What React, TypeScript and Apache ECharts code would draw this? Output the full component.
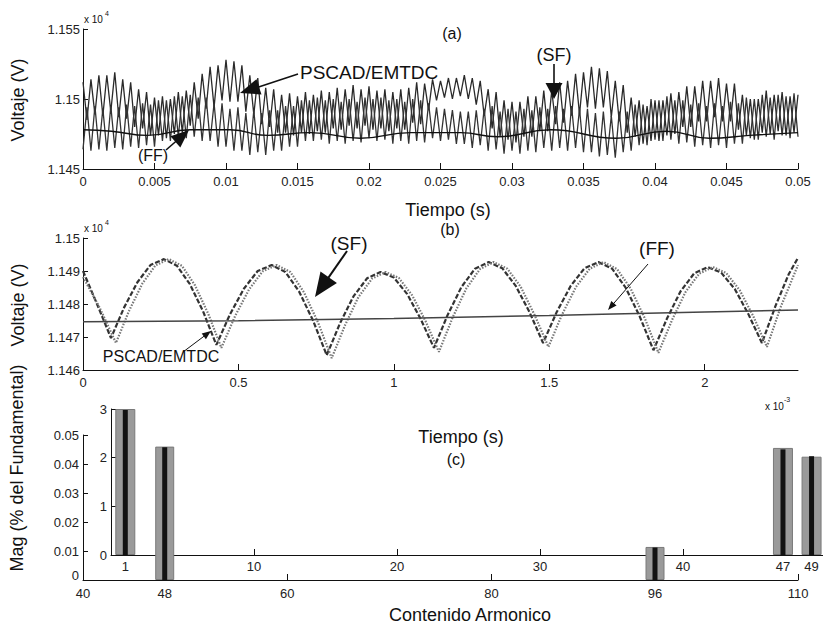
import React, { useEffect, useRef } from "react";
import * as echarts from "echarts";

const FONT = "'Liberation Sans', Arial, sans-serif";
const TICK_FONT = "'Liberation Sans Narrow', 'Liberation Sans', Arial, sans-serif";

// ---------- Panel (a): voltage (V), time (s) ----------
const A_HALF_STEP = 0.05 / 180; // spacing between successive peak / trough samples
const PSCAD_A_PEAKS = [
  11512, 11514, 11517, 11517, 11519, 11514, 11512, 11507, 11505, 11501,
  11502, 11500, 11505, 11506, 11512, 11518, 11523, 11524, 11528, 11527,
  11524, 11517, 11515, 11508, 11507, 11503, 11504, 11502, 11505, 11503,
  11506, 11505, 11508, 11507, 11510, 11507, 11509, 11506, 11507, 11505,
  11507, 11508, 11512, 11511, 11514, 11513, 11515, 11515, 11517, 11515,
  11513, 11507, 11505, 11499, 11498, 11498, 11502, 11502, 11506, 11506,
  11512, 11513, 11518, 11519, 11523, 11522, 11520, 11513, 11510, 11501,
  11499, 11495, 11499, 11499, 11504, 11505, 11509, 11509, 11513, 11513,
  11515, 11511, 11511, 11503, 11500, 11500, 11506, 11503, 11505, 11502,
  11503,
];
const PSCAD_A_TROUGHS = [
  11485, 11489, 11488, 11491, 11487, 11486, 11480, 11479, 11474, 11474,
  11472, 11475, 11476, 11481, 11486, 11493, 11494, 11499, 11498, 11498,
  11491, 11489, 11482, 11480, 11476, 11476, 11474, 11476, 11475, 11477,
  11476, 11479, 11478, 11481, 11479, 11481, 11478, 11479, 11477, 11479,
  11478, 11483, 11482, 11492, 11499, 11501, 11500, 11502, 11500, 11496,
  11488, 11479, 11473, 11471, 11469, 11473, 11473, 11477, 11477, 11482,
  11483, 11488, 11489, 11494, 11493, 11494, 11487, 11484, 11476, 11473,
  11468, 11470, 11470, 11474, 11475, 11480, 11480, 11484, 11484, 11487,
  11484, 11484, 11478, 11474, 11471, 11476, 11475, 11477, 11474, 11476,
];
const SF_A_TROUGHS = [
  11464, 11463, 11464, 11463, 11465, 11464, 11466, 11465, 11467, 11466,
  11470, 11470, 11473, 11472, 11473, 11470, 11470, 11466, 11466, 11463,
  11463, 11460, 11462, 11460, 11463, 11463, 11466, 11466, 11470, 11470,
  11471, 11468, 11470, 11468, 11470, 11469, 11472, 11470, 11471, 11468,
  11470, 11468, 11470, 11469, 11472, 11470, 11471, 11468, 11468, 11465,
  11467, 11463, 11464, 11461, 11463, 11461, 11463, 11462, 11465, 11463,
  11465, 11463, 11465, 11462, 11462, 11459, 11460, 11458, 11462, 11463,
  11467, 11467, 11471, 11470, 11471, 11468, 11469, 11466, 11467, 11465,
  11467, 11465, 11468, 11468, 11472, 11471, 11473, 11471, 11474, 11472,
  11473,
];
const SF_A_PEAKS = [
  11494, 11495, 11493, 11495, 11494, 11496, 11495, 11497, 11496, 11499,
  11499, 11502, 11502, 11503, 11501, 11501, 11497, 11497, 11493, 11494,
  11490, 11492, 11490, 11492, 11492, 11495, 11495, 11499, 11499, 11501,
  11499, 11500, 11498, 11500, 11498, 11501, 11500, 11501, 11499, 11500,
  11498, 11500, 11499, 11497, 11494, 11493, 11492, 11491, 11491, 11492,
  11493, 11495, 11491, 11493, 11491, 11493, 11492, 11494, 11493, 11495,
  11493, 11495, 11493, 11493, 11490, 11491, 11488, 11491, 11491, 11496,
  11496, 11500, 11499, 11502, 11499, 11499, 11496, 11497, 11495, 11497,
  11495, 11498, 11497, 11501, 11500, 11503, 11501, 11503, 11502, 11504,
];
const FF_A = [
  [0, 11478], [0.002, 11477], [0.0045, 11474], [0.0075, 11478], [0.0103, 11478],
  [0.0129, 11474], [0.0159, 11476], [0.0194, 11472], [0.0229, 11476], [0.0264, 11476],
  [0.029, 11473], [0.0327, 11478], [0.0373, 11472], [0.0408, 11477], [0.0438, 11472],
  [0.0466, 11474], [0.05, 11476],
];

// ---------- Panel (b): voltage (V), time (x10^-3 s) ----------
const SF_B = [
  [0, 11490], [0.045, 11480], [0.09, 11469.7],
  [0.132, 11478.9], [0.175, 11486.6], [0.217, 11491.8], [0.26, 11493.6], [0.302, 11491.6], [0.344, 11486], [0.387, 11477.6], [0.429, 11467.6],
  [0.473, 11476.9], [0.518, 11484.7], [0.562, 11490], [0.607, 11491.8], [0.651, 11489.7], [0.695, 11483.8], [0.74, 11475], [0.784, 11464.5],
  [0.827, 11474.2], [0.87, 11482.3], [0.914, 11487.8], [0.957, 11489.7], [1.0, 11488], [1.043, 11483], [1.086, 11475.5], [1.129, 11466.7],
  [1.173, 11476.7], [1.217, 11485.1], [1.261, 11490.7], [1.305, 11492.7], [1.349, 11490.8], [1.392, 11485.5], [1.436, 11477.6], [1.48, 11468.2],
  [1.524, 11477.6], [1.569, 11485.5], [1.613, 11490.8], [1.658, 11492.7], [1.702, 11490.7], [1.746, 11484.9], [1.791, 11476.2], [1.835, 11466],
  [1.879, 11475.7], [1.922, 11483.8], [1.966, 11489.3], [2.01, 11491.2], [2.053, 11489.5], [2.097, 11484.5], [2.14, 11477], [2.184, 11468.2],
  [2.228, 11479.5], [2.27, 11489], [2.3, 11494],
];
const PSCAD_B = [
  [0, 11488.2], [0.053, 11479], [0.106, 11468.2],
  [0.148, 11477.9], [0.191, 11486.2], [0.233, 11491.7], [0.276, 11493.6], [0.318, 11491.6], [0.36, 11485.7], [0.403, 11477], [0.445, 11466.7],
  [0.489, 11476.3], [0.534, 11484.4], [0.578, 11489.9], [0.623, 11491.8], [0.667, 11489.7], [0.711, 11483.5], [0.756, 11474.4], [0.8, 11463.6],
  [0.843, 11473.6], [0.886, 11482.1], [0.93, 11487.7], [0.973, 11489.7], [1.016, 11487.9], [1.059, 11482.6], [1.102, 11474.8], [1.145, 11465.5],
  [1.189, 11475.9], [1.233, 11484.7], [1.277, 11490.6], [1.321, 11492.7], [1.365, 11490.7], [1.408, 11485.2], [1.452, 11476.8], [1.497, 11467],
  [1.541, 11476.8], [1.586, 11485.2], [1.63, 11490.7], [1.674, 11492.7], [1.718, 11490.6], [1.762, 11484.6], [1.807, 11475.7], [1.851, 11465.2],
  [1.895, 11475.2], [1.938, 11483.6], [1.982, 11489.2], [2.026, 11491.2], [2.069, 11489.4], [2.113, 11484.1], [2.156, 11476.3], [2.2, 11467],
  [2.244, 11479], [2.3, 11491.8],
];
const FF_B = [[0, 11474.6], [0.5, 11474.9], [1.0, 11475.6], [1.5, 11476.5], [1.67, 11476.9], [2.0, 11477.6], [2.3, 11478.2]];

// ---------- Panel (c): harmonic content ----------
const OUTER_ORDERS = [48, 96];
const OUTER_GRAY = [0.046, 0.0114];
const OUTER_BLACK = [0.0458, 0.0112];
const INNER_ORDERS = [1, 47, 49];
const INNER_GRAY = [3.0, 2.2, 2.02];
const INNER_BLACK = [2.98, 2.17, 2.03];

const A_X_LABEL_VALUES = [0, 0.005, 0.01, 0.015, 0.02, 0.025, 0.03, 0.035, 0.04, 0.045, 0.05];
const B_X_LABEL_VALUES = [0, 0.5, 1, 1.5, 2];
const C_OUTER_X_LABELS = [40, 48, 60, 80, 96, 110];
const C_OUTER_X_TICKS = [40, 60, 80, 110];
const C_INNER_X_LABELS = [1, 10, 20, 30, 40, 47, 49];
const C_INNER_X_TICKS = [10, 20, 30, 40];

function alternate(first: number[], second: number[], step: number) {
  const out: number[][] = [];
  for (let k = 0; k < first.length; k++) {
    out.push([2 * k * step, first[k]]);
    if (k < second.length) out.push([(2 * k + 1) * step, second[k]]);
  }
  return out;
}
function pairs(xs: number[], ys: number[]) {
  return xs.map((x, i) => [x, ys[i]]);
}

const INK = "#111";

function axisBase(gridIndex: number, extra: any) {
  return {
    type: "value",
    gridIndex,
    axisLine: { show: true, onZero: false, lineStyle: { color: INK, width: 1 } },
    axisTick: { show: true, inside: true, length: 5, lineStyle: { color: INK } },
    axisLabel: { color: "#222", fontSize: 13, fontFamily: TICK_FONT, margin: 5 },
    splitLine: { show: false },
    ...extra,
  };
}

function arrow(x1: number, y1: number, x2: number, y2: number, hl: number, hw: number, lw = 1.6) {
  const dx = x2 - x1, dy = y2 - y1;
  const L = Math.hypot(dx, dy);
  const ux = dx / L, uy = dy / L;
  const bx = x2 - ux * hl, by = y2 - uy * hl;
  const nx = -uy, ny = ux;
  return [
    { type: "line", z: 100, shape: { x1, y1, x2: bx + ux * 2, y2: by + uy * 2 }, style: { stroke: INK, lineWidth: lw } },
    {
      type: "polygon", z: 100,
      shape: { points: [[x2, y2], [bx + (nx * hw) / 2, by + (ny * hw) / 2], [bx - (nx * hw) / 2, by - (ny * hw) / 2]] },
      style: { fill: INK },
    },
  ];
}

function txt(text: string, x: number, y: number, size: number, align = "center", rotation = 0) {
  return {
    type: "text", z: 100, x, y, rotation,
    style: { text, fontSize: size, fontFamily: FONT, fill: INK, align, verticalAlign: "middle" },
  };
}

export default function App() {
  const ref = useRef<HTMLDivElement>(null);
  useEffect(() => {
    const chart = echarts.init(ref.current!, null, { renderer: "svg" });
    const option: any = {
      animation: false,
      backgroundColor: "#ffffff",
      grid: [
        { left: 83, top: 29, width: 715, height: 140 },
        { left: 83, top: 238, width: 715, height: 132 },
        { left: 83, top: 435, width: 715, height: 145 },
        { left: 111, top: 409, width: 712, height: 146 },
      ],
      xAxis: [
        axisBase(0, { min: 0, max: 0.05, interval: 0.005,
          axisLabel: { color: "#222", fontSize: 13, fontFamily: TICK_FONT, margin: 6, customValues: A_X_LABEL_VALUES },
          axisTick: { inside: true, length: 6, lineStyle: { color: INK }, customValues: A_X_LABEL_VALUES } }),
        axisBase(1, { min: 0, max: 2.3,
          axisLabel: { color: "#222", fontSize: 13, fontFamily: TICK_FONT, margin: 6, customValues: B_X_LABEL_VALUES },
          axisTick: { inside: true, length: 6, lineStyle: { color: INK }, customValues: B_X_LABEL_VALUES } }),
        axisBase(2, { min: 40, max: 110,
          axisLabel: { color: "#222", fontSize: 13, fontFamily: TICK_FONT, margin: 7, customValues: C_OUTER_X_LABELS },
          axisTick: { inside: true, length: 6, lineStyle: { color: INK }, customValues: C_OUTER_X_TICKS } }),
        { type: "value", gridIndex: 2, min: 40, max: 110, show: false },
        axisBase(3, { min: 0, max: 49.8,
          axisLabel: { color: "#222", fontSize: 13, fontFamily: TICK_FONT, margin: 5, customValues: C_INNER_X_LABELS },
          axisTick: { inside: true, length: 6, lineStyle: { color: INK }, customValues: C_INNER_X_TICKS } }),
        { type: "value", gridIndex: 3, min: 0, max: 49.8, show: false },
      ],
      yAxis: [
        axisBase(0, { min: 11450, max: 11550, interval: 50,
          axisLabel: { color: "#222", fontSize: 13, fontFamily: TICK_FONT, margin: 3, formatter: (v: number) => String(v / 10000) } }),
        axisBase(1, { min: 11460, max: 11500, interval: 10,
          axisLabel: { color: "#222", fontSize: 13, fontFamily: TICK_FONT, margin: 3, formatter: (v: number) => String(v / 10000) } }),
        axisBase(2, { min: 0, max: 0.05, interval: 0.01,
          axisLabel: {
            color: "#222", fontSize: 13, fontFamily: TICK_FONT, margin: 4,
            formatter: (v: number) => (v === 0 ? "{z|0}" : String(v)),
            rich: { z: { fontSize: 13, fontFamily: TICK_FONT, color: "#222", padding: [0, 0, 10, 0] } },
          } }),
        axisBase(3, { min: 0, max: 3, interval: 1,
          axisLabel: { color: "#222", fontSize: 13, fontFamily: TICK_FONT, margin: 4 } }),
      ],
      series: [
        { name: "PSCAD/EMTDC (a)", type: "line", xAxisIndex: 0, yAxisIndex: 0, showSymbol: false,
          data: alternate(PSCAD_A_PEAKS, PSCAD_A_TROUGHS, A_HALF_STEP), lineStyle: { color: "#2a2a2a", width: 1.3 } },
        { name: "SF (a)", type: "line", xAxisIndex: 0, yAxisIndex: 0, showSymbol: false,
          data: alternate(SF_A_TROUGHS, SF_A_PEAKS, A_HALF_STEP), lineStyle: { color: "#333", width: 1.3 } },
        { name: "FF (a)", type: "line", xAxisIndex: 0, yAxisIndex: 0, showSymbol: false, smooth: true,
          data: FF_A, lineStyle: { color: "#111", width: 1.4 } },
        { name: "SF (b)", type: "line", xAxisIndex: 1, yAxisIndex: 1, showSymbol: false,
          data: SF_B, lineStyle: { color: "#333", width: 2.2, type: [5, 2] } },
        { name: "PSCAD/EMTDC (b)", type: "line", xAxisIndex: 1, yAxisIndex: 1, showSymbol: false,
          data: PSCAD_B, lineStyle: { color: "#777", width: 2.2, type: [1.5, 1.5] } },
        { name: "FF (b)", type: "line", xAxisIndex: 1, yAxisIndex: 1, showSymbol: false,
          data: FF_B, lineStyle: { color: "#444", width: 1.5 } },
        { name: "outer gray", type: "bar", xAxisIndex: 2, yAxisIndex: 2, barWidth: 19,
          data: pairs(OUTER_ORDERS, OUTER_GRAY), itemStyle: { color: "#9a9a9a", borderColor: "#7a7a7a", borderWidth: 1 } },
        { name: "outer black", type: "bar", xAxisIndex: 3, yAxisIndex: 2, barWidth: 5,
          data: pairs(OUTER_ORDERS, OUTER_BLACK), itemStyle: { color: "#111" } },
        { name: "inner gray", type: "bar", xAxisIndex: 4, yAxisIndex: 3, barWidth: 20,
          data: pairs(INNER_ORDERS, INNER_GRAY), itemStyle: { color: "#9a9a9a", borderColor: "#7a7a7a", borderWidth: 1 } },
        { name: "inner black", type: "bar", xAxisIndex: 5, yAxisIndex: 3, barWidth: 5,
          data: pairs(INNER_ORDERS, INNER_BLACK), itemStyle: { color: "#111" } },
      ],
      graphic: [
        // panel (a)
        txt("x 10", 84, 19, 10, "left"),
        txt("4", 105, 13, 7, "left"),
        txt("(a)", 452, 33, 16),
        txt("PSCAD/EMTDC", 300, 72, 19, "left"),
        ...arrow(298, 74, 240, 93, 20, 16),
        txt("(SF)", 554, 55, 18),
        ...arrow(554, 64, 554, 99, 16, 17),
        txt("(FF)", 153, 155, 16),
        ...arrow(166, 150, 189, 130, 18, 15),
        txt("Voltaje (V)", 18, 100, 18, "center", Math.PI / 2),
        txt("Tiempo (s)", 448, 210, 18),
        // panel (b)
        txt("x 10", 84, 228, 10, "left"),
        txt("4", 105, 222, 7, "left"),
        txt("(b)", 450, 229, 16),
        txt("(SF)", 349, 243, 19),
        ...arrow(347, 251, 315, 297, 24, 20, 2),
        txt("(FF)", 657, 248, 19),
        ...arrow(648, 264, 608, 310, 9, 7, 1),
        txt("PSCAD/EMTDC", 161, 356, 16),
        ...arrow(183, 352, 211, 331, 9, 7, 1),
        txt("Voltaje (V)", 18, 305, 18, "center", Math.PI / 2),
        txt("x 10", 765, 406, 10, "left"),
        txt("-3", 784, 399, 7, "left"),
        // panel (c)
        txt("Tiempo (s)", 461, 437, 18),
        txt("(c)", 456, 459, 16),
        txt("Mag (% del Fundamental)", 17, 468, 18, "center", Math.PI / 2),
        txt("Contenido Armonico", 470, 615, 18),
      ],
    };
    chart.setOption(option);
    return () => chart.dispose();
  }, []);
  return (
    <div
      ref={ref}
      style={{ position: "fixed", left: 0, top: 0, width: 823, height: 627, background: "#fff" }}
    />
  );
}
